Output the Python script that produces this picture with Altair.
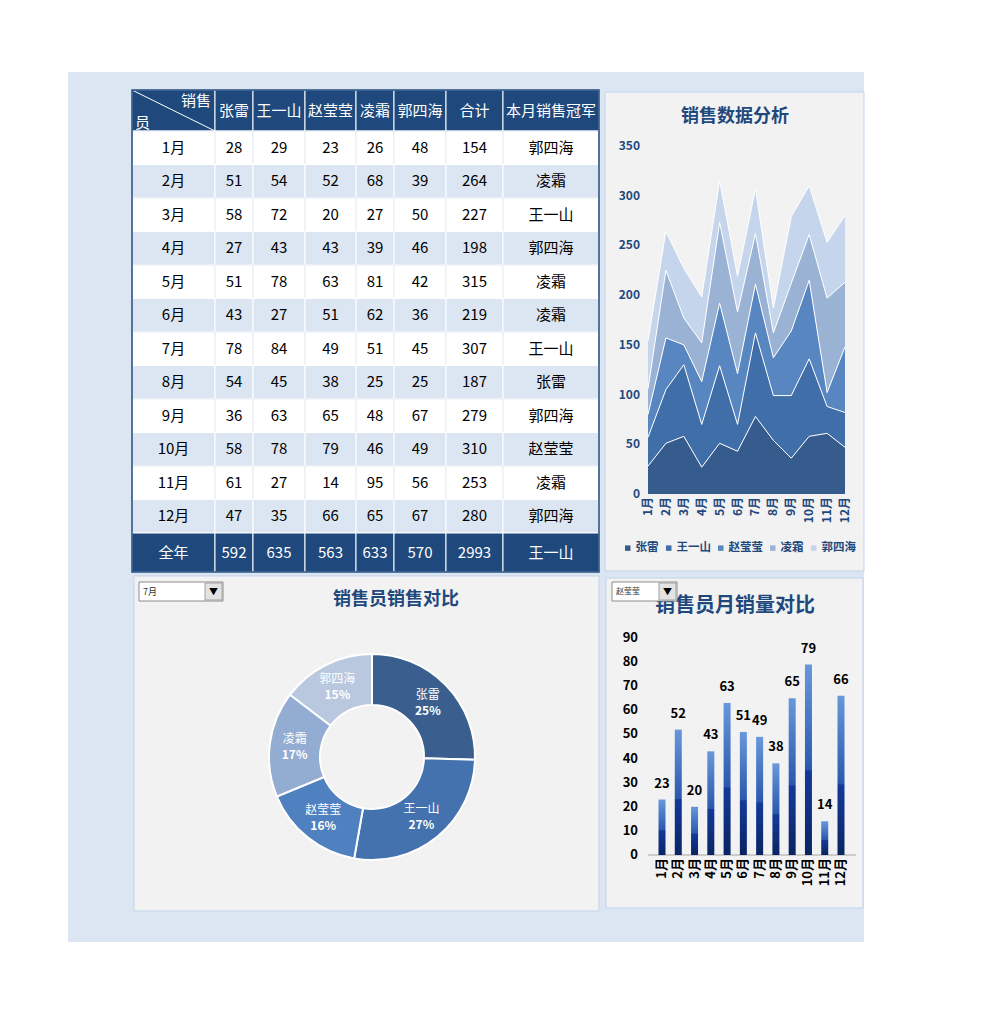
import altair as alt
import pandas as pd

# ---------------- data ----------------
MONTHS = ["1月", "2月", "3月", "4月", "5月", "6月", "7月", "8月", "9月", "10月", "11月", "12月"]
NAMES = ["张雷", "王一山", "赵莹莹", "凌霜", "郭四海"]
ZHANG_LEI = [28, 51, 58, 27, 51, 43, 78, 54, 36, 58, 61, 47]
WANG_YISHAN = [29, 54, 72, 43, 78, 27, 84, 45, 63, 78, 27, 35]
ZHAO_YINGYING = [23, 52, 20, 43, 63, 51, 49, 38, 65, 79, 14, 66]
LING_SHUANG = [26, 68, 27, 39, 81, 62, 51, 25, 48, 46, 95, 65]
GUO_SIHAI = [48, 39, 50, 46, 42, 36, 45, 25, 67, 49, 56, 67]
SERIES = [ZHANG_LEI, WANG_YISHAN, ZHAO_YINGYING, LING_SHUANG, GUO_SIHAI]
AREA_TICKS = [0, 50, 100, 150, 200, 250, 300, 350]
BAR_TICKS = [0, 10, 20, 30, 40, 50, 60, 70, 80, 90]
SEL_MONTH = "7月"
SEL_PERSON = "赵莹莹"

# ---------------- style ----------------
FONT = "Noto Sans CJK SC"
NAVY = "#1F497D"
PAGE_BLUE = "#DCE6F2"
CARD = "#F2F2F2"
CARD_BORDER = "#C3D3E9"
AREA_COLORS = ["#365C8D", "#3F6EA8", "#5886C0", "#9AB3D5", "#C5D5EB"]
DONUT_COLORS = ["#3A5F8F", "#4472AE", "#4F80BF", "#93ACD1", "#B9C7DF"]
COL_W = [83, 38, 52, 51, 38, 52, 57, 96]
HEAD_H, ROW_H, FOOT_H = 41, 33.5, 39


def one():
    return alt.Data(values=[{"a": 1}])


def box(x1, x2, y1, y2, **kw):
    return alt.Chart(one()).mark_rect(**kw).encode(
        x=alt.value(x1), x2=alt.value(x2), y=alt.value(y1), y2=alt.value(y2))


def label(txt, x, y, **kw):
    return alt.Chart(one()).mark_text(text=txt, font=FONT, **kw).encode(
        x=alt.value(x), y=alt.value(y))


# ---------------- table ----------------
col_edges = [0]
for w in COL_W:
    col_edges.append(col_edges[-1] + w)
row_edges = [0, HEAD_H] + [HEAD_H + ROW_H * (i + 1) for i in range(12)]
row_edges.append(row_edges[-1] + FOOT_H)
T_W, T_H = col_edges[-1], row_edges[-1]

totals = [sum(s[i] for s in SERIES) for i in range(12)]
champs = [NAMES[max(range(5), key=lambda j: SERIES[j][i])] for i in range(12)]
year = [sum(s) for s in SERIES]
year_champ = NAMES[max(range(5), key=lambda j: year[j])]

header = [""] + NAMES + ["合计", "本月销售冠军"]
cells = []
for r in range(14):
    if r == 0:
        texts = header
        fill, stroke, tc = NAVY, "#FFFFFF", "#FFFFFF"
    elif r == 13:
        texts = ["全年"] + [str(v) for v in year] + [str(sum(year)), year_champ]
        fill, stroke, tc = NAVY, "#FFFFFF", "#FFFFFF"
    else:
        i = r - 1
        texts = [MONTHS[i]] + [str(s[i]) for s in SERIES] + [str(totals[i]), champs[i]]
        if r % 2 == 1:
            fill, stroke = "#FFFFFF", "#E6ECF5"
        else:
            fill, stroke = PAGE_BLUE, "#FFFFFF"
        tc = "#000000"
    for c in range(8):
        cells.append({
            "x0": col_edges[c], "x1": col_edges[c + 1],
            "y0": row_edges[r], "y1": row_edges[r + 1],
            "xc": (col_edges[c] + col_edges[c + 1]) / 2,
            "yc": (row_edges[r] + row_edges[r + 1]) / 2,
            "fill": fill, "stroke": stroke, "text": texts[c], "tc": tc,
        })
cells_df = pd.DataFrame(cells)
txs = alt.Scale(domain=[0, T_W], range=[132, 599])
tys = alt.Scale(domain=[0, T_H], range=[90, 572])

t_rect = alt.Chart(cells_df).mark_rect(strokeWidth=1).encode(
    x=alt.X("x0:Q", scale=txs, axis=None), x2="x1:Q",
    y=alt.Y("y0:Q", scale=tys, axis=None), y2="y1:Q",
    fill=alt.Fill("fill:N", scale=None), stroke=alt.Stroke("stroke:N", scale=None))
t_text = alt.Chart(cells_df).mark_text(font=FONT, fontSize=15).encode(
    x=alt.X("xc:Q", scale=txs, axis=None), y=alt.Y("yc:Q", scale=tys, axis=None),
    text="text:N", color=alt.Color("tc:N", scale=None))
diag_df = pd.DataFrame([{"x0": 0, "y0": 0, "x1": col_edges[1], "y1": HEAD_H}])
t_diag = alt.Chart(diag_df).mark_rule(color="white", strokeWidth=1).encode(
    x=alt.X("x0:Q", scale=txs, axis=None), x2="x1:Q",
    y=alt.Y("y0:Q", scale=tys, axis=None), y2="y1:Q")
outline_df = pd.DataFrame([{"x0": 0, "y0": 0, "x1": T_W, "y1": T_H}])
t_outline = alt.Chart(outline_df).mark_rect(fillOpacity=0, stroke=NAVY, strokeWidth=1.5).encode(
    x=alt.X("x0:Q", scale=txs, axis=None), x2="x1:Q",
    y=alt.Y("y0:Q", scale=tys, axis=None), y2="y1:Q")
table = alt.layer(t_rect, t_text, t_diag, t_outline)

# ---------------- stacked area ----------------
rows = []
for i in range(12):
    acc = 0
    for j, n in enumerate(NAMES):
        v = SERIES[j][i]
        rows.append({"m": i + 1, "name": n, "k": j, "bot": acc, "top": acc + v})
        acc += v
area_df = pd.DataFrame(rows)
axs = alt.Scale(domain=[1, 12], range=[648, 845])
ays = alt.Scale(domain=[0, 350], range=[494, 146])
a_area = alt.Chart(area_df).mark_area(opacity=1).encode(
    x=alt.X("m:Q", scale=axs, axis=None),
    y=alt.Y("top:Q", scale=ays, axis=None), y2="bot:Q",
    color=alt.Color("name:N", scale=alt.Scale(domain=NAMES, range=AREA_COLORS),
                    legend=alt.Legend(title=None, orient="none", direction="horizontal",
                                      legendX=622, legendY=542, symbolType="square",
                                      symbolSize=30, symbolStrokeWidth=0, labelOffset=2,
                                      columnPadding=4, labelFont=FONT, labelFontSize=11.5,
                                      labelFontWeight="bold", labelColor=NAVY)),
    order=alt.Order("k:Q"))
a_line = alt.Chart(area_df).mark_line(color="white", strokeWidth=1).encode(
    x=alt.X("m:Q", scale=axs, axis=None),
    y=alt.Y("top:Q", scale=ays, axis=None), detail="name:N")
a_ylab = alt.Chart(pd.DataFrame({"t": AREA_TICKS})).mark_text(
    font=FONT, fontSize=12, fontWeight="bold", color=NAVY, align="right", baseline="middle").encode(
    x=alt.value(640), y=alt.Y("t:Q", scale=ays, axis=None), text="t:Q")
a_xlab = alt.Chart(pd.DataFrame({"m": list(range(1, 13)), "lab": MONTHS})).mark_text(
    font=FONT, fontSize=12, fontWeight="bold", color=NAVY, align="right", baseline="middle",
    angle=270).encode(x=alt.X("m:Q", scale=axs, axis=None), y=alt.value(497), text="lab:N")
area_chart = alt.layer(a_area, a_line, a_ylab, a_xlab)

# ---------------- donut ----------------
mi = MONTHS.index(SEL_MONTH)
dvals = [s[mi] for s in SERIES]
dtot = sum(dvals)
donut_df = pd.DataFrame({"name": NAMES, "v": dvals, "k": list(range(5)),
                         "pct": [f"{round(v / dtot * 100)}%" for v in dvals]})
d_arc = alt.Chart(donut_df).mark_arc(radius=103, innerRadius=52, stroke="white", strokeWidth=2).encode(
    theta=alt.Theta("v:Q", stack=True), order=alt.Order("k:Q"),
    color=alt.Color("name:N", scale=alt.Scale(domain=NAMES, range=DONUT_COLORS), legend=None),
    x=alt.value(372), y=alt.value(757))
d_name = alt.Chart(donut_df).mark_text(radius=78, font=FONT, fontSize=12, color="white", dy=-8).encode(
    theta=alt.Theta("v:Q", stack=True), order=alt.Order("k:Q"), text="name:N",
    x=alt.value(372), y=alt.value(757))
d_pct = alt.Chart(donut_df).mark_text(radius=78, font=FONT, fontSize=12, fontWeight="bold",
                                      color="white", dy=8).encode(
    theta=alt.Theta("v:Q", stack=True), order=alt.Order("k:Q"), text="pct:N",
    x=alt.value(372), y=alt.value(757))
donut = alt.layer(d_arc, d_name, d_pct)

# ---------------- bar ----------------
pi = NAMES.index(SEL_PERSON)
bar_df = pd.DataFrame({"m": list(range(1, 13)), "lab": MONTHS, "v": SERIES[pi]})
bxs = alt.Scale(domain=[1, 12], range=[657, 846])
bys = alt.Scale(domain=[0, 90], range=[855, 638])
grad = alt.Gradient(gradient="linear", x1=0, x2=0, y1=0, y2=1, stops=[
    alt.GradientStop(offset=0, color="#6898DA"),
    alt.GradientStop(offset=0.55, color="#2A58AE"),
    alt.GradientStop(offset=0.56, color="#14399A"),
    alt.GradientStop(offset=1, color="#0A2463")])
b_axis = alt.Chart(one()).mark_rule(color="#A6A6A6", strokeWidth=1).encode(
    x=alt.value(648), x2=alt.value(856), y=alt.Y(datum=0, scale=bys, axis=None))
b_bar = alt.Chart(bar_df).mark_bar(width=7, color=grad).encode(
    x=alt.X("m:Q", scale=bxs, axis=None), y=alt.Y("v:Q", scale=bys, axis=None))
b_val = alt.Chart(bar_df).mark_text(font=FONT, fontSize=13, fontWeight="bold", color="black",
                                    baseline="middle", dy=-16).encode(
    x=alt.X("m:Q", scale=bxs, axis=None), y=alt.Y("v:Q", scale=bys, axis=None), text="v:Q")
b_ylab = alt.Chart(pd.DataFrame({"t": BAR_TICKS})).mark_text(
    font=FONT, fontSize=13, fontWeight="bold", color="black", align="right", baseline="middle").encode(
    x=alt.value(638), y=alt.Y("t:Q", scale=bys, axis=None), text="t:Q")
b_xlab = alt.Chart(bar_df).mark_text(
    font=FONT, fontSize=13, fontWeight="bold", color="black", align="right", baseline="middle",
    angle=270).encode(x=alt.X("m:Q", scale=bxs, axis=None), y=alt.value(858), text="lab:N")
bar_chart = alt.layer(b_axis, b_bar, b_val, b_ylab, b_xlab)


def dropdown(x1, x2, y1, y2, txt, fs):
    return [
        box(x1, x2, y1, y2, fill="white", stroke="#8C8C8C", strokeWidth=1),
        box(x2 - 18, x2 - 1, y1 + 1, y2 - 1, fill="#E3E3E3", stroke="#A0A0A0", strokeWidth=1),
        label("▼", x2 - 9.5, (y1 + y2) / 2, fontSize=9, color="black"),
        label(txt, x1 + 4, (y1 + y2) / 2, fontSize=fs, color="#333333", align="left"),
    ]


layers = [
    box(68, 864, 72, 942, fill=PAGE_BLUE),
    box(605, 864, 92, 571, fill=CARD, stroke=CARD_BORDER, strokeWidth=1),
    box(134, 599, 576, 911, fill=CARD, stroke=CARD_BORDER, strokeWidth=1),
    box(606, 863, 578, 908, fill=CARD, stroke=CARD_BORDER, strokeWidth=1),
    table,
    label("销售", 211, 101, fontSize=15, color="white", align="right"),
    label("员", 135, 123, fontSize=15, color="white", align="left"),
    area_chart,
    label("销售数据分析", 735, 117, fontSize=18, fontWeight="bold", color=NAVY),
    donut,
    label("销售员销售对比", 396, 600, fontSize=18, fontWeight="bold", color=NAVY),
    bar_chart,
    label("销售员月销量对比", 735, 606, fontSize=20, fontWeight="bold", color=NAVY),
] + dropdown(139, 223, 582, 601, SEL_MONTH, 9) + dropdown(612, 677, 582, 601, SEL_PERSON, 8)

chart = alt.layer(*layers).resolve_scale(
    x="independent", y="independent", color="independent", theta="independent"
).properties(
    width=997, height=1014, padding=0, background="white",
    autosize=alt.AutoSizeParams(type="none"),
).configure_view(strokeWidth=0)

chart.save("out.html", embed_options={"renderer": "svg", "actions": False})
